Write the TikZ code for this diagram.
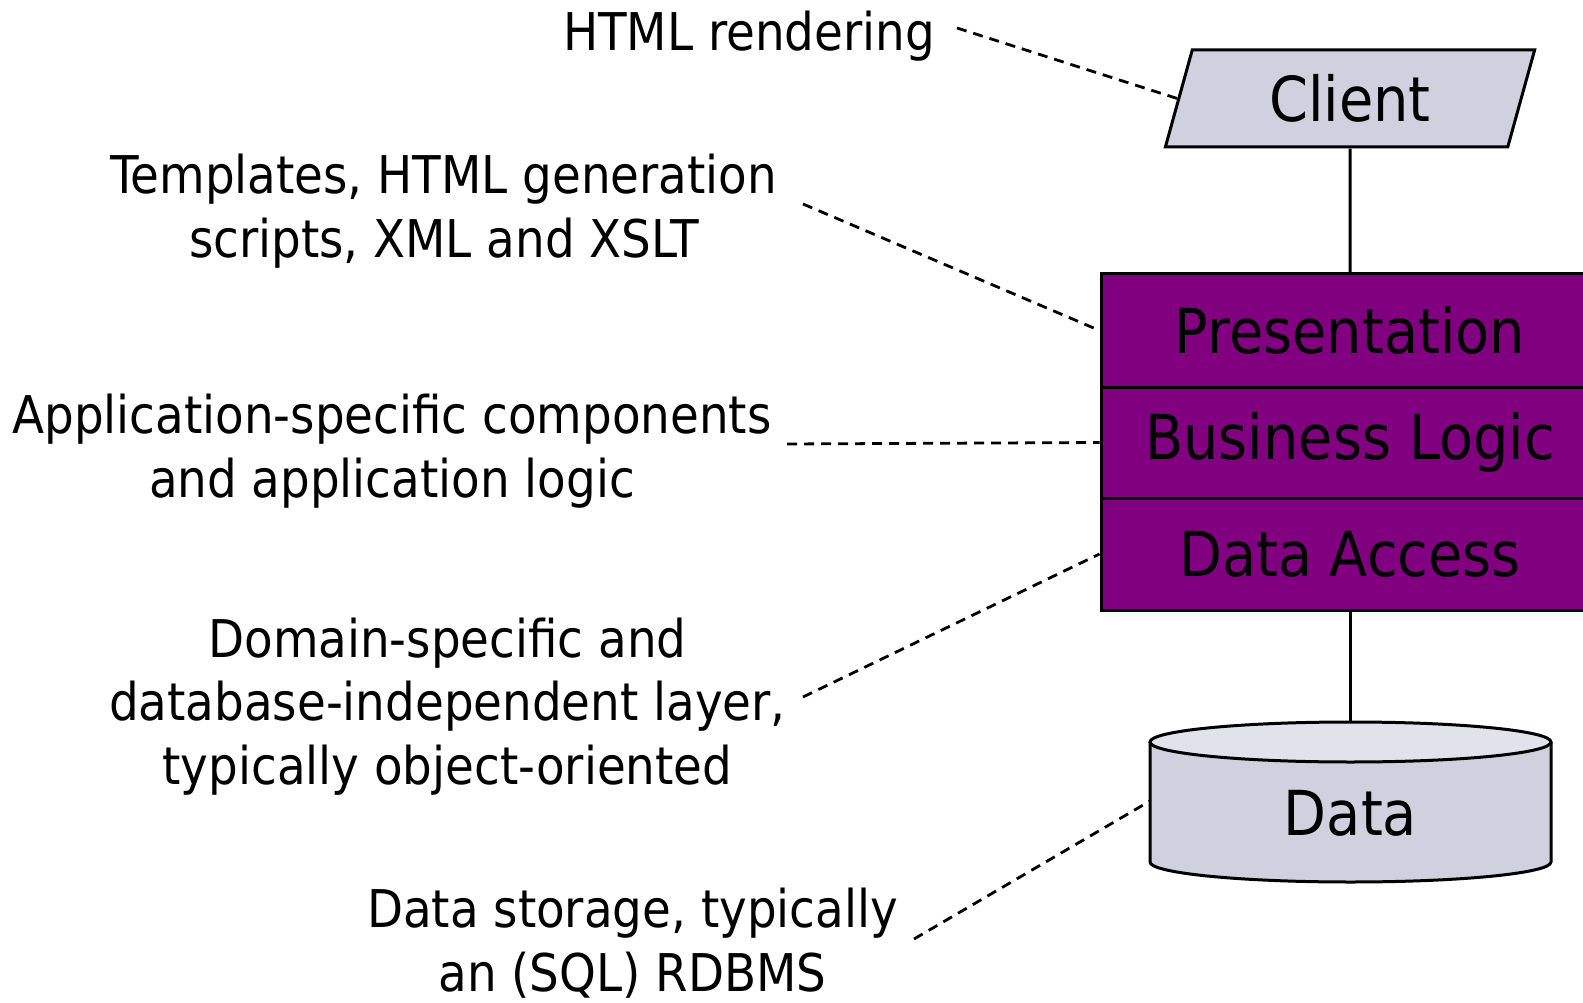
\documentclass[tikz,border=0pt]{standalone}
\usepackage{fontspec}
\setmainfont{DejaVu Sans Condensed}
\usetikzlibrary{shapes.geometric}

\definecolor{layer}{HTML}{800080}
\definecolor{tierfill}{HTML}{D0D0DE}
\definecolor{tiertop}{HTML}{E2E2EA}

\newcommand\notefont{\fontsize{52}{63.5}\selectfont}
\newcommand\tierfont{\fontsize{62}{70}\selectfont}

\tikzset{
  link/.style={line width=3pt},
  leader/.style={line width=2.8pt, dash pattern=on 10pt off 7pt},
  % base anchor of a multi-line note sits on its last line
  note/.style={font=\notefont, align=center, anchor=base, inner sep=0pt},
  layerbox/.style={draw, line width=3pt, fill=layer, minimum width=498pt,
    minimum height=112pt, font=\tierfont, inner sep=0pt},
}

\begin{document}
\begin{tikzpicture}[x=1pt, y=-1pt]
  \useasboundingbox (0,0) rectangle (1583,1003);

  % client tier
  \node[trapezium, trapezium left angle=74, trapezium right angle=106,
        trapezium stretches=true, minimum width=370pt, minimum height=97pt,
        draw, line width=3pt, fill=tierfill, font=\tierfont, inner sep=0pt]
        (client) at (1350,98.5) {Client};

  % application server layers
  \node[layerbox, minimum height=113pt] (pres) at (1350,330.5) {Presentation};
  \node[layerbox, minimum height=111pt] (biz)  at (1350,442.5) {Business Logic};
  \node[layerbox] (acc) at (1350,554) {Data Access};

  % database cylinder
  \fill[tierfill] (1150,742) -- (1150,862)
    arc[start angle=180, end angle=360, x radius=200.5pt, y radius=20pt]
    -- (1551,742) -- cycle;
  \draw[link, fill=tiertop] (1350.5,742) ellipse [x radius=200.5pt, y radius=20pt];
  \draw[link] (1150,742) -- (1150,862)
    arc[start angle=180, end angle=360, x radius=200.5pt, y radius=20pt]
    -- (1551,742);
  \coordinate (dbtop) at (1350,722);
  \coordinate (dbside) at (1150,801);
  \node[font=\tierfont, inner sep=0pt] (data) at (1350.5,813) {Data};

  % tier connections
  \draw[link] (client.south) -- (pres.north);
  \draw[link] (acc.south) -- (dbtop);

  % annotations
  \node[note] (n1) at (749,50.5) {HTML rendering};
  \node[note] (n2) at (444,257.5) {Templates, HTML generation\\scripts, XML and XSLT};
  \node[note] (n3) at (392,497) {Application-specific components\\and application logic};
  \node[note] (n4) at (447.5,784) {Domain-specific and\\database-independent layer,\\typically object-oriented};
  \node[note] (n5) at (632.5,991) {Data storage, typically\\an (SQL) RDBMS};

  \coordinate (s1) at (957,28);
  \coordinate (s2) at (803,204);
  \coordinate (s3) at (787,444);
  \coordinate (s4) at (803,697);
  \coordinate (s5) at (914,939);

  \draw[leader] (s1) -- (client.west);
  \draw[leader] (s2) -- (pres.west);
  \draw[leader] (s3) -- (biz.west);
  \draw[leader] (s4) -- (acc.west);
  \draw[leader] (s5) -- (dbside);
\end{tikzpicture}
\end{document}
